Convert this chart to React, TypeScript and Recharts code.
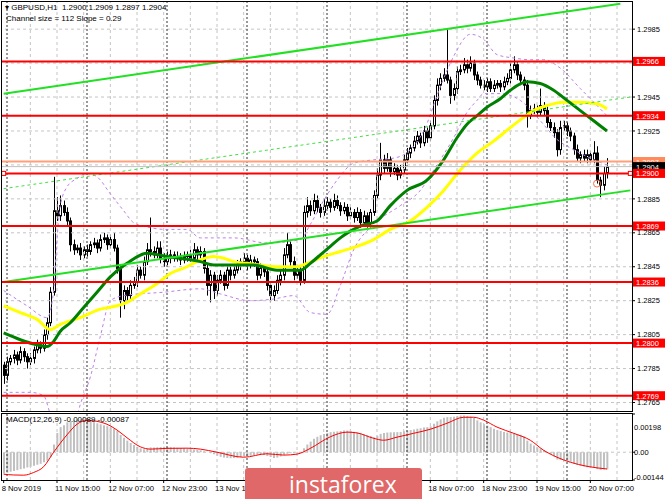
import {
  ComposedChart,
  Bar,
  Line,
  XAxis,
  YAxis,
  ReferenceLine,
  ReferenceDot,
} from "recharts";

// GBPUSD H1, 8 Nov 23:00 .. 20 Nov 12:00 (one entry per hourly bar)
const firstOpen = 1.2787;
const closes = [
  1.2781, 1.2789, 1.2791, 1.2793, 1.279, 1.2795, 1.2792, 1.2789, 1.2791, 1.2796,
  1.2799, 1.2797, 1.2805, 1.2812, 1.283, 1.2878, 1.2875, 1.2881, 1.2877, 1.2872,
  1.2858, 1.2855, 1.2856, 1.2852, 1.2855, 1.2854, 1.2858, 1.2859, 1.2856, 1.2861,
  1.2862, 1.2858, 1.2861, 1.2856, 1.2844, 1.2825, 1.2831, 1.2828, 1.2834, 1.2836,
  1.2843, 1.284, 1.2848, 1.2855, 1.2854, 1.2852, 1.2856, 1.285, 1.2848, 1.285,
  1.2852, 1.285, 1.2851, 1.2849, 1.2851, 1.2852, 1.285, 1.2855, 1.2852, 1.2854,
  1.2844, 1.2834, 1.284, 1.2831, 1.2837, 1.284, 1.2834, 1.2843, 1.284, 1.2843,
  1.2846, 1.2848, 1.285, 1.2846, 1.2849, 1.2848, 1.284, 1.2844, 1.2842, 1.2834,
  1.2828, 1.2831, 1.2837, 1.284, 1.2852, 1.2858, 1.2848, 1.284, 1.2843, 1.2837,
  1.2877, 1.2881, 1.2878, 1.2884, 1.288, 1.2877, 1.2881, 1.2883, 1.288, 1.2884,
  1.2881, 1.2878, 1.288, 1.2875, 1.2877, 1.2874, 1.2877, 1.2871, 1.2875, 1.2871,
  1.2877, 1.2887, 1.2899, 1.2908, 1.2903, 1.2908, 1.2901, 1.2903, 1.2899, 1.2902,
  1.2908, 1.2912, 1.2915, 1.2919, 1.2922, 1.2918, 1.2925, 1.2921, 1.2928, 1.2943,
  1.2952, 1.2956, 1.2958, 1.2955, 1.2946, 1.295, 1.296, 1.2961, 1.2964, 1.2962,
  1.2965, 1.2958, 1.2955, 1.2952, 1.2951, 1.2954, 1.295, 1.2952, 1.2953, 1.2951,
  1.2954, 1.2956, 1.2961, 1.2964, 1.2958, 1.2955, 1.2952, 1.2934, 1.2937, 1.2938,
  1.2936, 1.294, 1.2937, 1.293, 1.2927, 1.2924, 1.2914, 1.2927, 1.2928, 1.2925,
  1.2922, 1.2914, 1.2909, 1.2911, 1.2909, 1.2911, 1.2908, 1.2912, 1.2896, 1.2893,
  1.29, 1.2904,
];
// wick lengths above / below the body, in pips
const upperWicks = [
  2, 3, 2, 3, 2, 3, 2, 2, 3, 2, 3, 2, 3, 3, 3, 20, 8, 6, 3, 3,
  2, 3, 2, 3, 2, 3, 2, 3, 2, 3, 3, 2, 3, 4, 2, 2, 3, 2, 3, 3,
  3, 2, 3, 4, 19, 3, 4, 4, 3, 4, 3, 2, 3, 2, 3, 2, 3, 4, 2, 3,
  2, 2, 3, 2, 3, 3, 2, 3, 2, 3, 3, 2, 3, 2, 3, 2, 2, 3, 2, 2,
  2, 3, 3, 3, 4, 7, 2, 3, 2, 2, 4, 5, 3, 4, 3, 2, 4, 3, 2, 4,
  3, 2, 3, 2, 3, 2, 3, 2, 3, 2, 2, 3, 4, 10, 3, 4, 2, 3, 2, 3,
  3, 3, 2, 3, 3, 2, 3, 2, 3, 3, 4, 3, 4, 27, 2, 3, 3, 3, 4, 3,
  4, 2, 2, 2, 3, 2, 2, 3, 2, 2, 3, 3, 4, 5, 2, 2, 2, 3, 3, 3,
  2, 10, 2, 3, 2, 3, 2, 4, 3, 2, 2, 2, 3, 2, 3, 3, 2, 7, 4, 2,
  4, 5,
];
const lowerWicks = [
  5, 3, 2, 3, 3, 2, 3, 4, 2, 3, 2, 3, 2, 3, 2, 2, 3, 3, 2, 3,
  4, 3, 2, 3, 2, 3, 2, 2, 3, 2, 2, 3, 2, 2, 3, 10, 5, 3, 3, 2,
  3, 2, 3, 2, 3, 2, 2, 3, 3, 2, 3, 2, 2, 3, 2, 3, 2, 2, 3, 2,
  3, 6, 10, 5, 3, 2, 3, 2, 3, 2, 2, 3, 2, 3, 2, 3, 3, 2, 3, 3,
  4, 3, 2, 3, 3, 2, 3, 3, 2, 3, 2, 3, 3, 2, 3, 3, 2, 2, 3, 2,
  2, 3, 2, 3, 2, 3, 2, 3, 2, 3, 3, 2, 2, 3, 3, 2, 3, 2, 3, 2,
  2, 2, 3, 2, 2, 3, 2, 3, 2, 2, 3, 3, 2, 2, 5, 3, 3, 2, 2, 3,
  2, 3, 3, 2, 2, 3, 2, 2, 2, 3, 2, 2, 3, 2, 3, 3, 3, 7, 2, 2,
  3, 2, 3, 3, 2, 3, 4, 3, 2, 3, 3, 3, 2, 3, 2, 3, 2, 2, 2, 7,
  3, 3,
];
const emptyBarsRight = 7;

// [bar, price]
const fastMaPoints = [
  [0, 1.2806], [5, 1.2802], [10, 1.2799], [13, 1.2798], [15, 1.2801], [17, 1.2807],
  [20, 1.2812], [24, 1.2821], [28, 1.283], [32, 1.2839], [37, 1.2847], [43, 1.2853],
  [49, 1.2851], [59, 1.2848], [63, 1.2846], [75, 1.2846], [82, 1.2843], [89, 1.2843],
  [92, 1.2847], [95, 1.2852], [98, 1.2857], [101, 1.2862], [104, 1.2866], [107, 1.2869],
  [112, 1.2872], [116, 1.2881], [121, 1.289], [127, 1.2896], [132, 1.2908], [136, 1.2921],
  [139, 1.2929], [142, 1.2934], [145, 1.2939], [149, 1.2944], [152, 1.2949], [157, 1.2954],
  [161, 1.2953], [165, 1.2949], [169, 1.2943], [173, 1.2937], [177, 1.2931], [181, 1.2925],
];
const slowMaPoints = [
  [0, 1.2822], [5, 1.2818], [10, 1.2814], [14, 1.2808], [17, 1.2811], [23, 1.2815],
  [29, 1.282], [34, 1.2822], [37, 1.2824], [41, 1.2829], [46, 1.2835], [50, 1.2841],
  [55, 1.2845], [59, 1.2849], [63, 1.2851], [66, 1.285], [69, 1.2848], [73, 1.2847],
  [77, 1.2846], [82, 1.2845], [88, 1.2845], [91, 1.2847], [96, 1.2851], [101, 1.2854],
  [106, 1.2857], [111, 1.2861], [116, 1.2867], [122, 1.2872], [127, 1.288], [132, 1.289],
  [137, 1.2902], [142, 1.2912], [147, 1.2919], [152, 1.2927], [156, 1.2933], [159, 1.2937],
  [163, 1.294], [168, 1.2942], [173, 1.2942], [178, 1.2941], [181, 1.2938],
];
const bandUpperPoints = [
  [0, 1.2831], [7, 1.2822], [13, 1.2815], [15, 1.2831], [16, 1.2861], [17, 1.2881],
  [19, 1.2892], [22, 1.2897], [25, 1.29], [28, 1.2898], [32, 1.2888], [36, 1.2878],
  [39, 1.2871], [44, 1.2868], [49, 1.2867], [55, 1.2867], [59, 1.2862], [69, 1.2862],
  [79, 1.2859], [89, 1.2861], [92, 1.287], [96, 1.2884], [100, 1.2896], [105, 1.2906],
  [111, 1.2908], [117, 1.2909], [122, 1.2914], [126, 1.2925], [131, 1.2951], [135, 1.2969],
  [140, 1.2982], [144, 1.2979], [148, 1.297], [153, 1.2968], [158, 1.2967], [162, 1.2967],
  [167, 1.2962], [173, 1.295], [178, 1.294], [181, 1.2934],
];
const bandLowerPoints = [
  [0, 1.2771], [8, 1.2771], [12, 1.2769], [14, 1.2758], [17, 1.2743], [20, 1.2743],
  [23, 1.2764], [26, 1.278], [29, 1.2804], [32, 1.2825], [36, 1.2828], [48, 1.283],
  [59, 1.2832], [65, 1.2829], [74, 1.2825], [81, 1.2826], [87, 1.2828], [92, 1.2818],
  [97, 1.2817], [101, 1.2834], [105, 1.2855], [111, 1.287], [119, 1.2881], [125, 1.289],
  [129, 1.2902], [135, 1.2921], [139, 1.2936], [142, 1.2943], [144, 1.2947], [149, 1.2947],
  [155, 1.2943], [161, 1.2931], [166, 1.292], [171, 1.2914], [176, 1.2909], [181, 1.2905],
];

// MACD(12,26,9)
const macdHist = [
  -0.0011, -0.00106, -0.00101, -0.00097, -0.00093, -0.00088, -0.00084, -0.00079, -0.00075, -0.0007,
  -0.00065, -0.0006, -0.00052, -0.00044, -0.00025, 0.0004, 0.001, 0.0013, 0.0014, 0.00155,
  0.0016, 0.00165, 0.00168, 0.0017, 0.0017, 0.00168, 0.0016, 0.00155, 0.0015, 0.00145,
  0.0014, 0.00135, 0.0013, 0.00122, 0.0011, 0.0009, 0.00075, 0.0006, 0.00048, 0.00038,
  0.00028, 0.0002, 0.00015, 0.0002, 0.00025, 0.00025, 0.00026, 0.00027, 0.00028, 0.00027,
  0.00026, 0.00025, 0.00023, 0.00022, 0.0002, 0.00018, 0.00016, 0.00014, 0.00012, 0.0001,
  0.00005, 0, -0.00005, -0.0001, -0.00018, -0.00024, -0.00028, -0.0003, -0.00031, -0.0003,
  -0.00028, -0.00025, -0.00022, -0.0002, -0.00018, -0.00015, -0.00012, -0.00012, -0.00015, -0.0002,
  -0.00025, -0.0003, -0.00028, -0.00022, -0.00015, -0.00008, -0.00005, -0.00005, -0.00006, -0.00004,
  0.0002, 0.0004, 0.00055, 0.0007, 0.0008, 0.00088, 0.00095, 0.001, 0.00104, 0.00106,
  0.00108, 0.0011, 0.00112, 0.00112, 0.0011, 0.00106, 0.00102, 0.00097, 0.00092, 0.00088,
  0.00084, 0.00078, 0.00085, 0.00095, 0.001, 0.00102, 0.00103, 0.00103, 0.00104, 0.00105,
  0.00108, 0.00112, 0.00115, 0.00118, 0.00122, 0.00124, 0.00128, 0.0013, 0.00134, 0.00148,
  0.0016, 0.0017, 0.00178, 0.00182, 0.00182, 0.00184, 0.00188, 0.0019, 0.0019, 0.00188,
  0.00185, 0.00178, 0.00165, 0.00155, 0.00145, 0.00138, 0.0013, 0.00122, 0.00115, 0.0011,
  0.00105, 0.00102, 0.00102, 0.001, 0.00095, 0.0009, 0.00082, 0.0006, 0.00045, 0.00035,
  0.00025, 0.0002, 0.00012, 0, -0.00012, -0.00022, -0.00038, -0.0004, -0.00042, -0.00045,
  -0.0005, -0.00058, -0.00065, -0.0007, -0.00074, -0.00078, -0.0008, -0.00082, -0.00088, -0.00092,
  -0.0009, -0.00089,
];
const signalPoints = [
  [0, -0.00114], [3, -0.00118], [6, -0.00119], [9, -0.00105], [12, -0.00075], [15, 0],
  [19, 0.0009], [22, 0.00145], [25, 0.00165], [28, 0.0016], [31, 0.00145], [34, 0.00115],
  [37, 0.00075], [41, 0.00028], [44, 0.00016], [49, 0.0002], [55, 0.00021], [59, 0.00016],
  [64, 0], [72, -0.00026], [79, -0.00008], [84, -0.00015], [88, -0.0001], [92, 0.0002],
  [98, 0.0008], [103, 0.00104], [106, 0.001], [111, 0.00072], [114, 0.00062], [118, 0.00078],
  [123, 0.00098], [128, 0.00119], [133, 0.0015], [138, 0.00181], [141, 0.00181], [144, 0.00166],
  [148, 0.0013], [153, 0.00098], [158, 0.00062], [162, 0.0001], [166, -0.00026], [170, -0.00052],
  [175, -0.00073], [181, -0.00087],
];

// levels
const redLevels = [1.2966, 1.2934, 1.29, 1.2869, 1.2836, 1.28, 1.2769];
const orangeLevel = 1.2907;
const bidLevel = 1.2904;
const gridPrices = [1.2985, 1.2965, 1.2945, 1.2925, 1.2905, 1.2885, 1.2865, 1.2845, 1.2825, 1.2805, 1.2785, 1.2765];
const priceLabels = [1.2985, 1.2945, 1.2925, 1.2885, 1.2865, 1.2845, 1.2825, 1.2805, 1.2785, 1.2765];
const channelUpper = [[0, 1.2947], [185, 1.3]];
const channelMiddle = [[0, 1.2891], [188, 1.2945]];
const channelLower = [[0, 1.2836], [188, 1.289]];
const macdTicks = [0.00198, 0, -0.00144];

// time axis
const labelBars = [0, 16, 32, 48, 64, 80, 96, 112, 128, 144, 160, 176];
const timeLabels = [
  "8 Nov 2019", "11 Nov 15:00", "12 Nov 07:00", "12 Nov 23:00", "13 Nov 15:00", "14 Nov 07:00",
  "14 Nov 23:00", "15 Nov 15:00", "18 Nov 07:00", "18 Nov 23:00", "19 Nov 15:00", "20 Nov 07:00",
];
const daySeparators = [1, 25, 49, 73, 97, 121, 145, 169];
const gridBars = [8, 16, 24, 32, 40, 48, 56, 64, 72, 80, 88, 96, 104, 112, 120, 128, 136, 144, 152, 160, 168, 176, 184];

const pip = 0.0001;
const font = "'Liberation Sans', Arial, sans-serif";

const fastMap = new Map(fastMaPoints.map(([i, v]) => [i, v]));
const slowMap = new Map(slowMaPoints.map(([i, v]) => [i, v]));
const upMap = new Map(bandUpperPoints.map(([i, v]) => [i, v]));
const lowMap = new Map(bandLowerPoints.map(([i, v]) => [i, v]));
const sigMap = new Map(signalPoints.map(([i, v]) => [i, v]));

const rows = Array.from({ length: closes.length + emptyBarsRight }, (_, i) => {
  const base: any = { i, fast: fastMap.get(i), slow: slowMap.get(i), bu: upMap.get(i), bl: lowMap.get(i), signal: sigMap.get(i) };
  if (i >= closes.length) return base;
  const open = i === 0 ? firstOpen : closes[i - 1];
  const close = closes[i];
  const high = Math.max(open, close) + upperWicks[i] * pip;
  const low = Math.min(open, close) - lowerWicks[i] * pip;
  return { ...base, open, close, high, low, range: [low, high], hist: macdHist[i] };
});

function Candle(props: any) {
  const { x, y, width, height, payload } = props;
  if (!payload || payload.open == null) return null;
  const { open, close, high, low } = payload;
  const span = high - low || 1e-9;
  const py = (v: number) => y + ((high - v) / span) * height;
  const cx = Math.round(x + width / 2);
  const top = py(Math.max(open, close));
  const bot = py(Math.min(open, close));
  const bull = close >= open;
  return (
    <g>
      <line x1={cx + 0.5} x2={cx + 0.5} y1={y} y2={y + height} stroke="#000" strokeWidth={1} />
      <rect x={cx - 0.5} y={top} width={2} height={Math.max(bot - top, 1)} fill={bull ? "#fff" : "#000"} stroke="#000" strokeWidth={1} />
    </g>
  );
}

function PriceTag({ viewBox, text, fill }: any) {
  if (!viewBox) return null;
  const x = viewBox.x + viewBox.width;
  const y = viewBox.y;
  return (
    <g>
      <rect x={x + 1} y={y - 4.5} width={32} height={9} fill={fill} />
      <text x={x + 4} y={y + 3} fill="#fff" fontSize={7.5} fontFamily={font}>{text}</text>
    </g>
  );
}

function TimeTick({ x, y, payload }: any) {
  const label = timeLabels[labelBars.indexOf(payload.value)];
  return (
    <text x={x - 2} y={y + 6} fontSize={7.7} fontFamily={font} fill="#000">{label}</text>
  );
}

function MacdTick({ x, y, payload }: any) {
  const v = payload.value;
  const dy = v > 0 ? 13 : v < 0 ? -3 : 0;
  const text = v === 0 ? "0.00" : v.toFixed(5);
  return (
    <text x={x - 3} y={y + dy} dy="0.35em" fontSize={7.5} fontFamily={font} fill="#000">{text}</text>
  );
}

function Marker({ cx, cy }: any) {
  return <rect x={cx - 2} y={cy - 2} width={4} height={4} fill="#fff" stroke="#ff0000" strokeWidth={1} />;
}

const gridStroke = "#c4c4c4";
const sepStroke = "#333";

function verticals() {
  return [
    ...gridBars.map((b) => (
      <ReferenceLine key={"g" + b} x={b} stroke={gridStroke} strokeDasharray="3 3" />
    )),
    ...daySeparators.map((b) => (
      <ReferenceLine key={"s" + b} x={b} stroke={sepStroke} strokeDasharray="2 2" />
    )),
  ];
}

export default function App() {
  return (
    <div style={{ position: "absolute", left: 0, top: 0, width: 665, height: 499, background: "#fff", overflow: "hidden", fontFamily: font }}>
      <div style={{ position: "absolute", left: 0, top: 0 }}>
        <ComposedChart width={665} height={412} data={rows} margin={{ top: 2, right: 0, bottom: 1, left: 2 }}>
          <XAxis dataKey="i" hide />
          <YAxis
            orientation="right"
            width={33}
            domain={[1.276, 1.3001]}
            allowDataOverflow
            ticks={priceLabels}
            interval={0}
            tickSize={3}
            tickLine={{ stroke: "#000" }}
            axisLine={false}
            tickFormatter={(v: number) => v.toFixed(4)}
            tick={{ fontSize: 7.5, fill: "#000", fontFamily: font }}
          />
          {gridPrices.map((p) => (
            <ReferenceLine key={"h" + p} y={p} stroke={gridStroke} strokeDasharray="3 3" />
          ))}
          {verticals()}
          <Bar dataKey="range" barSize={3} shape={(p: any) => <Candle {...p} />} isAnimationActive={false} />
          <Line dataKey="bu" type="monotone" connectNulls stroke="#c07ee8" strokeWidth={1} strokeDasharray="3 3" dot={false} isAnimationActive={false} />
          <Line dataKey="bl" type="monotone" connectNulls stroke="#c07ee8" strokeWidth={1} strokeDasharray="3 3" dot={false} isAnimationActive={false} />
          <Line dataKey="slow" type="monotone" connectNulls stroke="#ffff00" strokeWidth={3} dot={false} isAnimationActive={false} />
          <Line dataKey="fast" type="monotone" connectNulls stroke="#008000" strokeWidth={3} dot={false} isAnimationActive={false} />
          <ReferenceLine segment={channelUpper.map(([x, y]) => ({ x, y }))} stroke="#22e022" strokeWidth={2} />
          <ReferenceLine segment={channelLower.map(([x, y]) => ({ x, y }))} stroke="#22e022" strokeWidth={2} />
          <ReferenceLine segment={channelMiddle.map(([x, y]) => ({ x, y }))} stroke="#44e044" strokeWidth={1} strokeDasharray="3 3" />
          <ReferenceLine y={orangeLevel} stroke="#ffa07a" strokeWidth={2} label={<PriceTag text={orangeLevel.toFixed(4)} fill="#ff8a5c" />} />
          <ReferenceLine y={bidLevel} stroke="#c0c0c0" strokeWidth={1} label={<PriceTag text={bidLevel.toFixed(4)} fill="#000" />} />
          {redLevels.map((p) => (
            <ReferenceLine key={"r" + p} y={p} stroke="#ff0000" strokeWidth={2} label={<PriceTag text={p.toFixed(4)} fill="#ff0000" />} />
          ))}
          <ReferenceDot x={178} y={1.2894} r={3.5} fill="none" stroke="#ff7050" strokeWidth={1} />
          <ReferenceDot x={0} y={1.29} shape={(p: any) => <Marker {...p} />} />
          <ReferenceDot x={188} y={1.29} shape={(p: any) => <Marker {...p} />} />
        </ComposedChart>
      </div>

      <div style={{ position: "absolute", left: 0, top: 412 }}>
        <ComposedChart width={665} height={87} data={rows} margin={{ top: 2, right: 0, bottom: 0, left: 2 }}>
          <XAxis
            dataKey="i"
            ticks={labelBars}
            interval={0}
            height={19}
            tickSize={3}
            tickLine={{ stroke: "#000" }}
            axisLine={false}
            tick={<TimeTick />}
          />
          <YAxis
            orientation="right"
            width={33}
            domain={[-0.00144, 0.00198]}
            allowDataOverflow
            ticks={macdTicks}
            interval={0}
            tickSize={3}
            tickLine={{ stroke: "#000" }}
            axisLine={false}
            tick={<MacdTick />}
          />
          <ReferenceLine y={0} stroke={gridStroke} strokeDasharray="3 3" />
          {verticals()}
          <Bar dataKey="hist" fill="#c0c0c0" barSize={2} isAnimationActive={false} />
          <Line dataKey="signal" type="monotone" connectNulls stroke="#ff0000" strokeWidth={1} dot={false} isAnimationActive={false} />
        </ComposedChart>
      </div>

      <svg width={665} height={499} style={{ position: "absolute", left: 0, top: 0, pointerEvents: "none" }}>
        <rect x={1.5} y={1.5} width={631} height={410} fill="none" stroke="#000" />
        <rect x={1.5} y={413.5} width={631} height={67} fill="none" stroke="#000" />
      </svg>

      <div style={{ position: "absolute", left: 5, top: 3, fontSize: 8, lineHeight: "10px", color: "#000", whiteSpace: "pre" }}>
        {"▾ GBPUSD,H1  1.2900 1.2909 1.2897 1.2904"}
      </div>
      <div style={{ position: "absolute", left: 6, top: 14, fontSize: 8, lineHeight: "10px", color: "#000", whiteSpace: "pre" }}>
        {"Channel size = 112 Slope = 0.29"}
      </div>
      <div style={{ position: "absolute", left: 6, top: 415, fontSize: 8, lineHeight: "10px", color: "#000", whiteSpace: "pre" }}>
        {"MACD(12,26,9) -0.00089 -0.00087"}
      </div>

      <div style={{ position: "absolute", left: 245, top: 468, width: 177, height: 40, background: "#e06868", borderRadius: 3 }}>
        <div style={{ position: "absolute", left: 44, top: 4, fontSize: 23, lineHeight: "24px", color: "#fff", fontFamily: "'Open Sans', 'Liberation Sans', sans-serif" }}>
          instaforex
        </div>
      </div>
    </div>
  );
}
